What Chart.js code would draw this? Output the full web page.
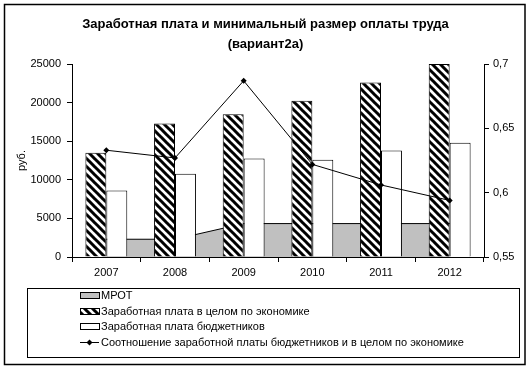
<!DOCTYPE html>
<html>
<head>
<meta charset="utf-8">
<script src="https://cdn.jsdelivr.net/npm/chart.js@4.4.1/dist/chart.umd.min.js"></script>
<style>
  html, body { margin: 0; padding: 0; background: #fff; }
  #wrap { width: 531px; height: 367px; }
</style>
</head>
<body>
<div id="wrap"><canvas id="myChart" width="531" height="367"></canvas></div>
<script>
// data
var years = ['2007', '2008', '2009', '2010', '2011', '2012'];
var mrot = [2300, 2300, 4330, 4330, 4330, 4330];
var wageAll = [13500, 17300, 18500, 20250, 22600, 25000];
var wageBudget = [8600, 10800, 12750, 12600, 13800, 14800];
var ratio = [0.633, 0.627, 0.687, 0.622, 0.606, 0.594];

var titleLines = ['Заработная плата и минимальный размер оплаты труда', '(вариант2а)'];
var labels = ['МРОТ', 'Заработная плата в целом по экономике', 'Заработная плата бюджетников',
  'Соотношение заработной платы бюджетников и в целом по экономике'];

var FONT = "'Liberation Sans', Arial, sans-serif";
Chart.defaults.font.family = FONT;
Chart.defaults.font.size = 11;
Chart.defaults.color = '#000';

// hatch "\\\\" pattern
function hatch() {
  var c = document.createElement('canvas');
  c.width = 8; c.height = 8;
  var g = c.getContext('2d');
  g.fillStyle = '#fff';
  g.fillRect(0, 0, 8, 8);
  g.strokeStyle = '#000';
  g.lineWidth = 3;
  g.beginPath();
  g.moveTo(-1, -1); g.lineTo(9, 9);
  g.moveTo(-9, -1); g.lineTo(1, 9);
  g.moveTo(7, -1); g.lineTo(17, 9);
  g.moveTo(-1, 7); g.lineTo(1, 9);
  g.moveTo(7, -1); g.lineTo(9, 1);
  g.stroke();
  return g.createPattern(c, 'repeat');
}
var hatchFill = hatch();

// white page, outer frame and the boxed legend
var frame = {
  id: 'frame',
  beforeDraw: function(chart) {
    var ctx = chart.ctx;
    ctx.save();
    ctx.fillStyle = '#fff';
    ctx.fillRect(0, 0, chart.width, chart.height);
    ctx.restore();
  },
  afterDraw: function(chart) {
    var ctx = chart.ctx;
    ctx.save();
    ctx.strokeStyle = '#000';
    ctx.lineWidth = 1.5;
    ctx.strokeRect(4.5, 4.5, 520.5, 360);
    ctx.lineWidth = 1;
    ctx.strokeRect(27.5, 288.5, 492, 69);

    ctx.font = '11px ' + FONT;
    ctx.textBaseline = 'middle';
    ctx.fillStyle = '#000';
    chart.data.datasets.forEach(function(ds, i) {
      var y = Math.round(295 + i * 15.7) + 0.5;
      if (ds.type === 'line' && !ds.fill) {
        ctx.beginPath();
        ctx.moveTo(80, y); ctx.lineTo(99, y);
        ctx.strokeStyle = '#000';
        ctx.stroke();
        ctx.beginPath();
        ctx.moveTo(89.5, y - 3); ctx.lineTo(92.5, y); ctx.lineTo(89.5, y + 3); ctx.lineTo(86.5, y);
        ctx.closePath();
        ctx.fill();
      } else {
        ctx.fillStyle = ds.backgroundColor;
        ctx.fillRect(80.5, y - 3, 19, 6);
        ctx.strokeStyle = '#000';
        ctx.strokeRect(80.5, y - 3, 19, 6);
        ctx.fillStyle = '#000';
      }
      ctx.fillText(ds.label, 101, y);
    });
    ctx.restore();
  }
};

var ctx = document.getElementById('myChart');

new Chart(ctx, {
  data: {
    labels: years,
    datasets: [
      {
        type: 'line',
        label: labels[0],
        data: mrot,
        fill: 'origin',
        backgroundColor: '#c0c0c0',
        borderColor: '#000',
        borderWidth: 1,
        pointRadius: 0,
        tension: 0,
        yAxisID: 'y',
        order: 3
      },
      {
        type: 'bar',
        label: labels[1],
        data: wageAll,
        backgroundColor: hatchFill,
        borderColor: '#000',
        borderWidth: 1,
        categoryPercentage: 0.61,
        barPercentage: 1,
        yAxisID: 'y',
        order: 2
      },
      {
        type: 'bar',
        label: labels[2],
        data: wageBudget,
        backgroundColor: '#fff',
        borderColor: '#000',
        borderWidth: 1,
        categoryPercentage: 0.61,
        barPercentage: 1,
        yAxisID: 'y',
        order: 2
      },
      {
        type: 'line',
        label: labels[3],
        data: ratio,
        fill: false,
        borderColor: '#000',
        borderWidth: 1,
        backgroundColor: '#000',
        pointStyle: 'rectRot',
        pointRadius: 3,
        pointBorderWidth: 0,
        tension: 0,
        yAxisID: 'y1',
        order: 0
      }
    ]
  },
  options: {
    responsive: false,
    animation: false,
    layout: { padding: { left: 0, right: 0, top: 0, bottom: 0 } },
    plugins: {
      legend: { display: false },
      tooltip: { enabled: false },
      title: {
        display: true,
        text: titleLines,
        font: { size: 13, weight: 'bold', lineHeight: 1.54 },
        color: '#000',
        padding: { top: 14, bottom: 10 }
      }
    },
    scales: {
      x: {
        offset: true,
        grid: { offset: true, drawOnChartArea: false, drawTicks: true, tickLength: 5, color: '#000' },
        border: { color: '#000' },
        ticks: { padding: 4, maxRotation: 0 },
        afterFit: function(s) { s.height = 110; }
      },
      y: {
        position: 'left',
        min: 0,
        max: 25000,
        ticks: {
          stepSize: 5000,
          padding: 6,
          callback: function(v) { return String(v); }
        },
        grid: { drawOnChartArea: false, tickLength: 5, color: '#000' },
        border: { color: '#000' },
        title: { display: true, text: 'руб.', padding: { top: 15, bottom: 0 }, font: { size: 11 } },
        afterFit: function(s) { s.width = 72; }
      },
      y1: {
        position: 'right',
        min: 0.55,
        max: 0.7,
        ticks: {
          stepSize: 0.05,
          padding: 4,
          callback: function(v) { return String(+v.toFixed(2)).replace('.', ','); }
        },
        grid: { drawOnChartArea: false, tickLength: 5, color: '#000' },
        border: { color: '#000' },
        afterFit: function(s) { s.width = 47; }
      }
    }
  },
  plugins: [frame]
});
</script>
</body>
</html>
